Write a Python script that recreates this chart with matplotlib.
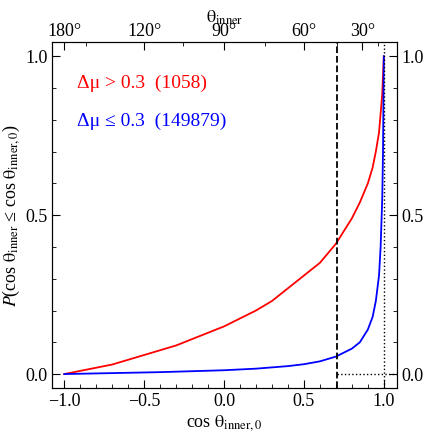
import numpy as np
from matplotlib import pyplot as plt

plt.rcParams['font.family'] = ['Liberation Serif', 'DejaVu Serif']
plt.rcParams['mathtext.fontset'] = 'stix'

# cumulative curves
red_x = [-1.0, -0.9, -0.8, -0.7, -0.6, -0.5, -0.4, -0.3, -0.2, -0.1, 0.0, 0.1, 0.2, 0.3, 0.4, 0.5,
         0.6, 0.7, 0.75, 0.8, 0.85, 0.9, 0.93, 0.95, 0.97, 0.98, 0.99, 1.0]
red_y = [0.0, 0.01, 0.02, 0.03, 0.045, 0.06, 0.075, 0.09, 0.11, 0.13, 0.15, 0.175, 0.2, 0.23, 0.27, 0.31,
         0.35, 0.41, 0.45, 0.49, 0.54, 0.6, 0.65, 0.7, 0.76, 0.82, 0.88, 1.0]
blue_x = [-1.0, -0.8, -0.6, -0.4, -0.2, 0.0, 0.2, 0.4, 0.5, 0.6, 0.7, 0.8, 0.85, 0.9, 0.93, 0.95,
          0.97, 0.98, 0.99, 0.995, 1.0]
blue_y = [0.0, 0.002, 0.004, 0.006, 0.009, 0.012, 0.017, 0.025, 0.031, 0.04, 0.055, 0.08, 0.1, 0.14, 0.18, 0.23,
          0.31, 0.4, 0.55, 0.7, 1.0]
top_deg = [180, 120, 90, 60, 30]

fig = plt.figure(figsize=(4.36, 4.36), dpi=100)
ax = fig.add_axes([0.12, 0.11, 0.79, 0.793])
ax.plot(red_x, red_y, color='red', lw=1.3)
ax.plot(blue_x, blue_y, color='blue', lw=1.3)
ax.axvline(np.cos(np.pi / 4), color='black', ls='--', lw=1.3)
ax.axvline(1.0, color='black', ls=':', lw=1)
ax.plot([np.cos(np.pi / 4), 1.1], [0, 0], color='black', ls=':', lw=1)
ax.set_xlim(-1.075, 1.081)
ax.set_ylim(-0.044, 1.044)
ax.set_xticks([-1, -0.5, 0, 0.5, 1])
ax.set_xticklabels(['−1.0', '−0.5', '0.0', '0.5', '1.0'])
ax.set_yticks([0, 0.5, 1])
ax.set_xticks(np.arange(-1, 1.01, 0.1), minor=True)
ax.set_yticks(np.arange(0, 1.01, 0.1), minor=True)
ax.tick_params(which='both', direction='in', labelsize=13, right=True, labelright=True)
ax.tick_params(which='major', length=6)
ax.tick_params(which='minor', length=3)
ax.set_xlabel(r'cos $\mathrm{\theta_{inner,0}}$', fontsize=13, labelpad=2)
ax.set_ylabel(r'$P$(cos $\mathrm{\theta_{inner}}$ ≤ cos $\mathrm{\theta_{inner,0}}$)', fontsize=13, labelpad=2)

top = ax.twiny()
top.set_xlim(ax.get_xlim())
top.set_xticks(np.cos(np.radians(top_deg)))
top.set_xticklabels([f'{d}°' for d in top_deg])
top.set_xticks(np.cos(np.radians([150, 105, 75, 45, 15])), minor=True)
top.tick_params(which='both', direction='in', labelsize=13, pad=2)
top.tick_params(which='major', length=6)
top.tick_params(which='minor', length=3)
top.set_xlabel(r'$\mathrm{\theta_{inner}}$', fontsize=13, labelpad=0)

ax.text(-0.92, 0.9, 'Δμ > 0.3  (1058)', color='red', fontsize=14)
ax.text(-0.92, 0.78, 'Δμ ≤ 0.3  (149879)', color='blue', fontsize=14)

fig.savefig('out.png', dpi=100)
